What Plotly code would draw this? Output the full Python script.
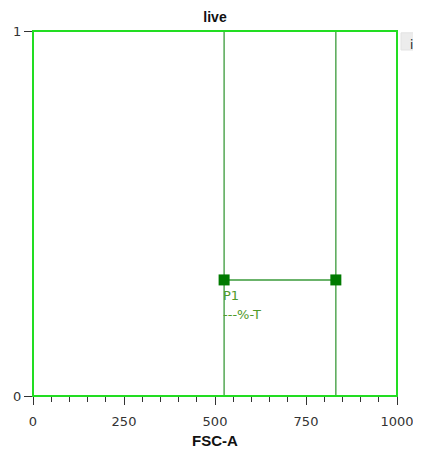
import plotly.graph_objects as go

# Data
x_ticks = [0, 250, 500, 750, 1000]
x_minor = [50, 100, 150, 200, 300, 350, 400, 450, 550, 600, 650, 700, 800, 850, 900, 950]
y_ticks = [0, 1]
x_title = "FSC-A"
gate_x = [525, 832]
gate_y = 0.318
gate_name = "P1"
gate_stat = "---%-T"

GATE_LINE = "#3a9a3a"
GATE_HANDLE = "#007a00"
LABEL_COL = "#4f9a2a"

fig = go.Figure()

# vertical gate lines
for gx in gate_x:
    fig.add_trace(go.Scatter(x=[gx, gx], y=[0, 1], mode="lines",
                             line=dict(color=GATE_LINE, width=1.3), hoverinfo="skip", showlegend=False))
# horizontal connector with handles
fig.add_trace(go.Scatter(x=gate_x, y=[gate_y, gate_y], mode="lines+markers",
                         line=dict(color=GATE_LINE, width=1.5),
                         marker=dict(symbol="square", size=11, color=GATE_HANDLE,
                                     line=dict(width=0)),
                         hoverinfo="skip", showlegend=False))

fig.add_annotation(x=gate_x[0], y=gate_y, xref="x", yref="y", text=gate_name,
                   showarrow=False, xanchor="left", yanchor="top", yshift=-6, xshift=-3,
                   font=dict(family="DejaVu Sans", size=13, color=LABEL_COL))
fig.add_annotation(x=gate_x[0], y=gate_y, xref="x", yref="y", text=gate_stat,
                   showarrow=False, xanchor="left", yanchor="top", yshift=-25, xshift=-3,
                   font=dict(family="DejaVu Sans", size=13, color=LABEL_COL))

# x-axis title
fig.add_annotation(x=0.5, y=-0.123, xref="paper", yref="paper", text="<b>" + x_title + "</b>",
                   showarrow=False, xanchor="center", yanchor="middle",
                   font=dict(family="Liberation Sans", size=15, color="#111"))

# green outer frame
fig.add_shape(type="rect", xref="paper", yref="paper", x0=0, x1=1, y0=0, y1=1,
              line=dict(color="#22dd22", width=2), fillcolor="rgba(0,0,0,0)", layer="above")

# "i" button
fig.add_shape(type="rect", xref="paper", yref="paper", x0=1.011, x1=1.066, y0=0.948, y1=0.995,
              line=dict(color="#e2e2e2", width=1), fillcolor="#ececec")
fig.add_annotation(x=1.04, y=0.962, xref="paper", yref="paper", text="i", showarrow=False,
                   xanchor="center", yanchor="middle",
                   font=dict(family="DejaVu Sans", size=12, color="#222"))

fig.update_layout(
    width=413, height=443,
    margin=dict(l=25, r=24, t=23, b=55, autoexpand=False),
    paper_bgcolor="white", plot_bgcolor="white",
    title=dict(text="<b>live</b>", x=0.5, xref="paper", xanchor="center", y=0.980, yanchor="middle",
               font=dict(family="Liberation Sans", size=14, color="#111")),
    font=dict(family="Liberation Sans", size=13, color="#333"),
    xaxis=dict(range=[0, 1000], tickvals=x_ticks, ticks="outside", ticklen=8, tickwidth=1.3,
               tickcolor="#333", showgrid=False, zeroline=False, showline=True,
               linecolor="#333", linewidth=1, mirror=True, automargin=False,
               ticklabeloverflow="allow", ticklabelstandoff=5,
               minor=dict(tickvals=x_minor, ticks="outside", ticklen=5, tickcolor="#333", tickwidth=1.3),
               tickfont=dict(family="DejaVu Sans", size=13, color="#333")),
    yaxis=dict(range=[0, 1], tickvals=y_ticks, ticks="outside", ticklen=8, tickwidth=1.3,
               tickcolor="#333", showgrid=False, zeroline=False, showline=True,
               linecolor="#333", linewidth=1, mirror=True, automargin=False,
               ticklabeloverflow="allow",
               tickfont=dict(family="DejaVu Sans", size=13, color="#333")),
)

fig.write_html("out.html")
